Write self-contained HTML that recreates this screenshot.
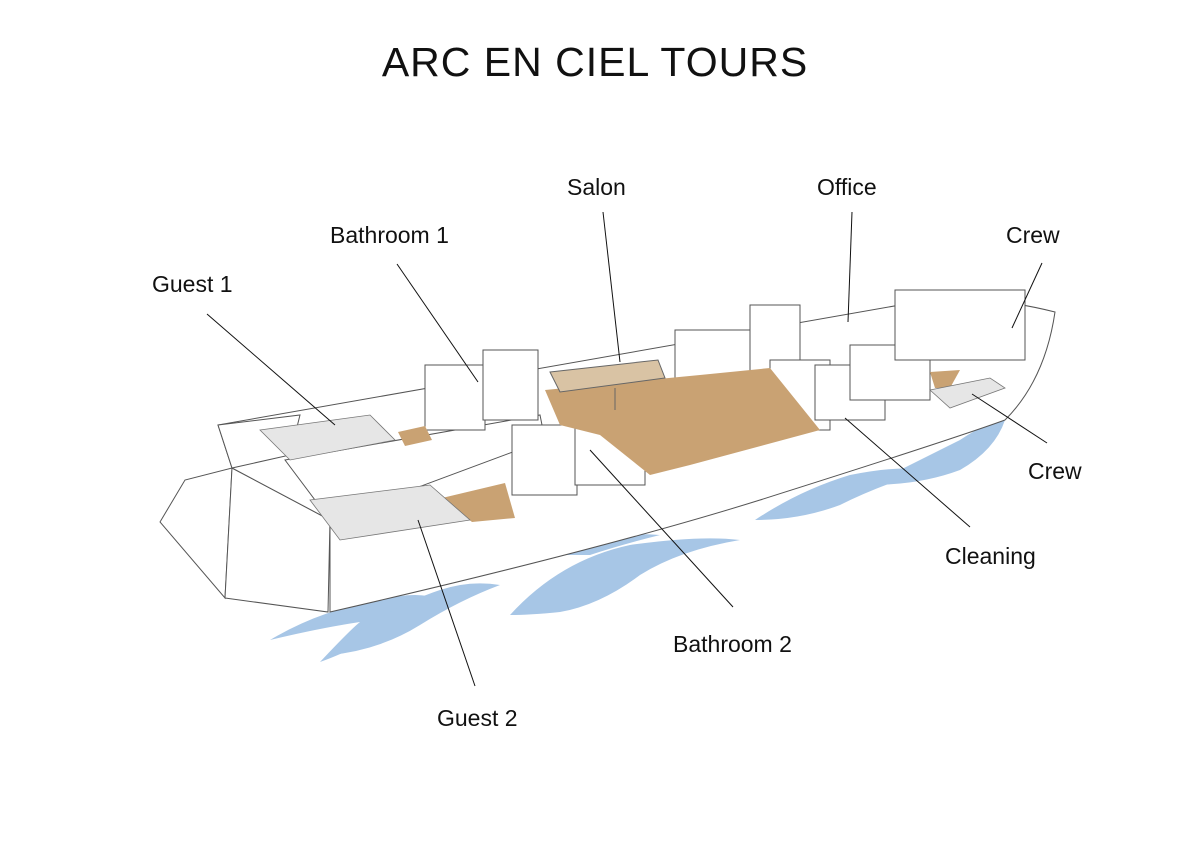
<!DOCTYPE html>
<html><head><meta charset="utf-8"><style>
html,body{margin:0;padding:0;background:#fff;}
svg{display:block;}
text{font-family:"Liberation Sans",sans-serif;fill:#111;}
</style></head><body>
<svg width="1191" height="842" viewBox="0 0 1191 842">
<rect width="1191" height="842" fill="#fff"/>
<text x="595" y="76" font-size="41" text-anchor="middle" letter-spacing="1">ARC EN CIEL TOURS</text>

<!-- waves -->
<g fill="#a7c6e6">
<path d="M270,640 Q320,610 380,600 Q420,590 440,600 Q400,610 370,640 Q340,655 320,662 Q350,630 360,622 Q320,628 270,640Z"/>
<path d="M330,655 Q380,610 440,590 Q470,580 500,585 Q460,600 420,625 Q380,650 330,655Z"/>
<path d="M510,615 Q560,560 630,545 Q700,535 740,540 Q680,550 640,575 Q600,605 560,612 Q530,615 510,615Z"/>
<path d="M545,555 Q600,530 660,535 Q620,545 590,555Z"/>
<path d="M755,520 Q800,490 850,475 Q900,465 930,470 Q880,485 840,505 Q800,520 755,520Z"/>
<path d="M870,485 Q920,460 960,440 Q990,420 1005,420 Q995,450 960,470 Q920,485 870,485Z"/>
</g>

<!-- hull -->
<g stroke="#555" stroke-width="1" fill="#fff">
<path d="M160,522 L185,480 L232,468 L225,598 L160,522Z"/>
<path d="M225,598 L328,612 L330,520 L232,468Z"/>
<path d="M330,612 Q600,550 760,500 Q950,440 1005,420 Q1045,380 1055,312 Q1000,298 940,298 L900,305 L218,425 L232,468 L330,520Z"/>
<path d="M218,425 L300,415 L290,455 L232,468Z" fill="#fff"/>
</g>

<!-- interior walls -->
<g stroke="#555" stroke-width="1" fill="#fff">
<path d="M285,460 L540,415 L545,440 L330,520 Z"/>
<rect x="425" y="365" width="60" height="65"/>
<rect x="483" y="350" width="55" height="70"/>
<rect x="512" y="425" width="65" height="70"/>
<rect x="575" y="425" width="70" height="60"/>
<rect x="675" y="330" width="75" height="55"/>
<rect x="750" y="305" width="50" height="70"/>
<rect x="770" y="360" width="60" height="70"/>
<rect x="815" y="365" width="70" height="55"/>
<rect x="850" y="345" width="80" height="55"/>
<rect x="895" y="290" width="130" height="70"/>
</g>

<!-- floors -->
<g fill="#c9a273">
<path d="M398,432 L425,426 L432,440 L405,446Z"/>
<path d="M545,390 L700,375 L770,368 L820,430 L690,465 L650,475 L600,435 L560,425Z"/>
<path d="M442,498 L505,483 L515,518 L472,522Z"/>
<path d="M930,372 L960,370 L950,388 L935,388Z"/>
</g>

<!-- beds -->
<g fill="#e6e6e6" stroke="#777" stroke-width="0.8">
<path d="M260,430 L370,415 L395,440 L290,460Z"/>
<path d="M310,500 L430,485 L470,520 L340,540Z"/>
<path d="M930,390 L990,378 L1005,388 L950,408Z"/>
</g>

<!-- salon table -->
<path d="M550,372 L658,360 L665,378 L560,392Z" fill="#d9c3a4" stroke="#666"/>
<line x1="615" y1="388" x2="615" y2="410" stroke="#666"/>

<!-- leader lines -->
<g stroke="#111" stroke-width="1">
<line x1="207" y1="314" x2="335" y2="425"/>
<line x1="397" y1="264" x2="478" y2="382"/>
<line x1="603" y1="212" x2="620" y2="362"/>
<line x1="852" y1="212" x2="848" y2="322"/>
<line x1="1042" y1="263" x2="1012" y2="328"/>
<line x1="1047" y1="443" x2="972" y2="394"/>
<line x1="970" y1="527" x2="845" y2="418"/>
<line x1="733" y1="607" x2="590" y2="450"/>
<line x1="475" y1="686" x2="418" y2="520"/>
</g>

<g font-size="23">
<text x="152" y="292">Guest 1</text>
<text x="330" y="243">Bathroom 1</text>
<text x="567" y="195">Salon</text>
<text x="817" y="195">Office</text>
<text x="1006" y="243">Crew</text>
<text x="1028" y="479">Crew</text>
<text x="945" y="564">Cleaning</text>
<text x="673" y="652">Bathroom 2</text>
<text x="437" y="726">Guest 2</text>
</g>
</svg>
</body></html>
